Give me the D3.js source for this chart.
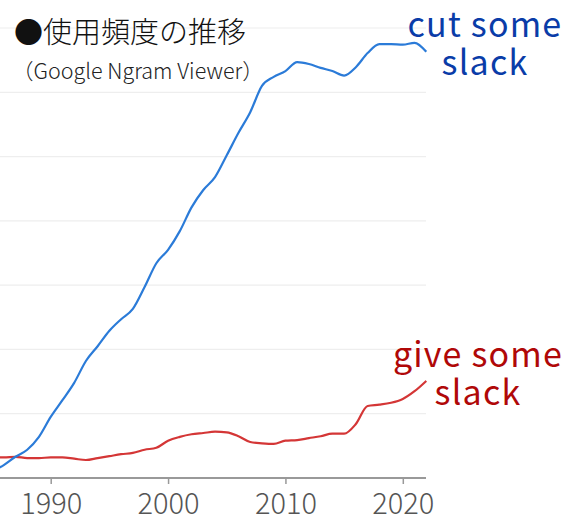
<!DOCTYPE html>
<html><head><meta charset="utf-8">
<script src="https://cdn.jsdelivr.net/npm/d3@7"></script>
<style>html,body{margin:0;padding:0;background:#fff;}svg{display:block;}</style>
</head><body>
<svg id="c" width="580" height="522"></svg>
<script>
const years = d3.range(1985, 2023);
const cutSome = [0.10,0.20,0.33,0.44,0.64,0.95,1.21,1.48,1.82,2.05,2.29,2.47,2.63,2.97,3.34,3.55,3.84,4.21,4.48,4.68,5.02,5.37,5.69,6.10,6.24,6.33,6.47,6.44,6.38,6.33,6.26,6.39,6.61,6.75,6.75,6.74,6.77,6.63];
const giveSome = [0.32,0.32,0.33,0.31,0.31,0.32,0.32,0.30,0.28,0.31,0.34,0.37,0.39,0.44,0.47,0.58,0.64,0.68,0.70,0.72,0.71,0.65,0.56,0.54,0.53,0.58,0.59,0.62,0.65,0.69,0.69,0.84,1.12,1.14,1.17,1.23,1.35,1.51];
const xTicks = [1990, 2000, 2010, 2020];
const yGrid = [1,2,3,4,5,6,7];

const svg = d3.select("#c");
const x = d3.scaleLinear().domain([1990, 2020]).range([50.7, 402.8]);
const y = d3.scaleLinear().domain([0, 7]).range([478, 28]);
const right = 426;
const ff = "'Noto Sans CJK JP', 'Noto Sans', sans-serif";

svg.append("g").selectAll("line").data(yGrid).join("line")
  .attr("x1", 0).attr("x2", right).attr("y1", d => y(d)).attr("y2", d => y(d))
  .attr("stroke", "#eeeeee").attr("stroke-width", 1.2);

const ax = svg.append("g").attr("transform", `translate(0,${y(0)})`)
  .call(d3.axisBottom(x).tickValues(xTicks).tickFormat(d3.format("d")).tickSize(6).tickSizeOuter(0));
ax.select(".domain").remove();
ax.append("line").attr("x1", 0).attr("x2", right).attr("stroke", "#999").attr("stroke-width", 2);
ax.selectAll(".tick line").attr("stroke", "#999").attr("stroke-width", 1.5);
ax.selectAll(".tick text").attr("fill", "#555").attr("font-size", 29).attr("y", 10).attr("dy", "0.9em")
  .attr("font-family", ff).attr("font-weight", 300);

const line = vals => d3.line().x((d, i) => x(years[i])).y(d => y(d)).curve(d3.curveMonotoneX)(vals);
svg.append("path").attr("d", line(giveSome)).attr("fill", "none").attr("stroke", "#d43636").attr("stroke-width", 2.2);
svg.append("path").attr("d", line(cutSome)).attr("fill", "none").attr("stroke", "#2b7bd8").attr("stroke-width", 2.2);

svg.append("text").attr("x", 14).attr("y", 43).attr("font-size", 29).attr("font-family", ff)
  .attr("font-weight", 300).attr("fill", "#111").text("●使用頻度の推移");
svg.append("text").attr("x", 12).attr("y", 79).attr("font-size", 21.5).attr("font-family", ff)
  .attr("font-weight", 300).attr("fill", "#222").text("（Google Ngram Viewer）");

function label(lines, cx, y0, color) {
  lines.forEach((s, i) => svg.append("text").attr("text-anchor", "middle").attr("font-size", 34)
    .attr("letter-spacing", 1.2).attr("font-family", ff).attr("font-weight", 400).attr("fill", color)
    .attr("x", cx).attr("y", y0 + i * 38).text(s));
}
label(["cut some", "slack"], 485, 37, "#0a3ca8");
label(["give some", "slack"], 478, 367, "#b00808");
</script>
</body></html>
